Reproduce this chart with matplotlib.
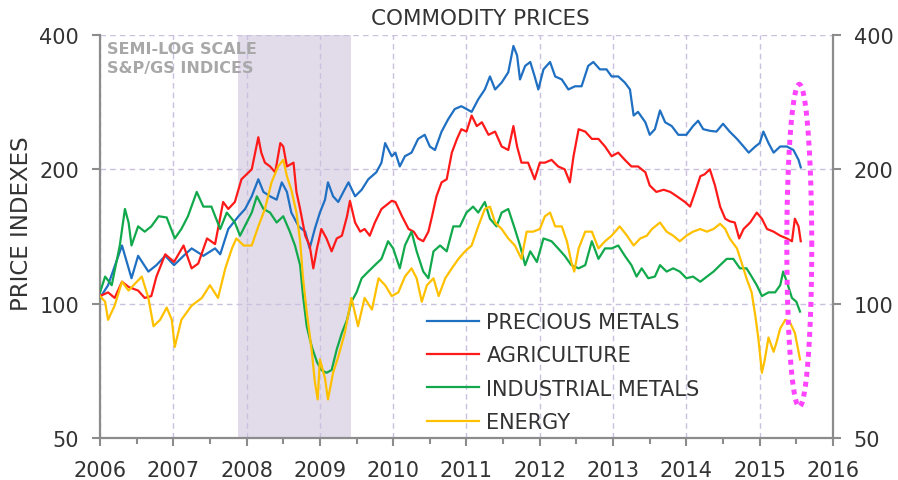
import numpy as np
import matplotlib
matplotlib.use("Agg")
import matplotlib.pyplot as plt
from matplotlib.ticker import FixedLocator, NullLocator, MultipleLocator, FuncFormatter

# ---- data (decimal year, index level) ----
prec_x = [2006.00, 2006.11, 2006.30, 2006.43, 2006.52, 2006.66, 2006.77, 2006.89, 2007.01, 2007.14,
          2007.25, 2007.41, 2007.57, 2007.64, 2007.75, 2007.89, 2007.98, 2008.07, 2008.16, 2008.23,
          2008.32, 2008.41, 2008.48, 2008.55, 2008.61, 2008.71, 2008.80, 2008.86, 2008.93, 2009.00,
          2009.07, 2009.11, 2009.18, 2009.25, 2009.32, 2009.39, 2009.48, 2009.57, 2009.66, 2009.77,
          2009.84, 2009.89, 2009.98, 2010.03, 2010.09, 2010.16, 2010.25, 2010.34, 2010.43, 2010.50,
          2010.57, 2010.66, 2010.75, 2010.84, 2010.93, 2011.00, 2011.07, 2011.16, 2011.25, 2011.32,
          2011.39, 2011.48, 2011.57, 2011.64, 2011.69, 2011.73, 2011.80, 2011.87, 2011.93, 2011.98,
          2012.05, 2012.14, 2012.21, 2012.30, 2012.39, 2012.48, 2012.57, 2012.66, 2012.73, 2012.82,
          2012.91, 2012.98, 2013.07, 2013.16, 2013.23, 2013.28, 2013.34, 2013.44, 2013.50, 2013.57,
          2013.64, 2013.71, 2013.80, 2013.89, 2014.00, 2014.09, 2014.16, 2014.23, 2014.32, 2014.41,
          2014.50, 2014.59, 2014.69, 2014.78, 2014.85, 2014.94, 2015.00, 2015.05, 2015.12, 2015.19,
          2015.28, 2015.37, 2015.46, 2015.53, 2015.56]
prec_y = [103, 110, 135, 114, 128, 118, 122, 128, 122, 128,
          133, 128, 133, 129, 147, 157, 163, 174, 190, 178,
          174, 171, 187, 178, 160, 149, 145, 133, 147, 160,
          171, 187, 174, 169, 178, 187, 174, 180, 190, 197,
          207, 229, 214, 218, 203, 214, 218, 234, 239, 225,
          221, 243, 259, 273, 277, 273, 269, 287, 302, 323,
          302, 313, 330, 378, 360, 318, 341, 348, 323, 302,
          335, 348, 323, 318, 302, 307, 307, 341, 348, 335,
          335, 323, 323, 313, 302, 264, 269, 255, 239, 246,
          271, 255, 250, 239, 239, 250, 257, 246, 244, 243,
          253, 243, 234, 225, 218, 225, 229, 243, 229, 218,
          225, 225, 221, 210, 202]

agri_x = [2006.00, 2006.11, 2006.20, 2006.30, 2006.39, 2006.52, 2006.61, 2006.70, 2006.77, 2006.89,
          2007.01, 2007.14, 2007.25, 2007.34, 2007.46, 2007.57, 2007.68, 2007.75, 2007.84, 2007.93,
          2008.07, 2008.16, 2008.20, 2008.25, 2008.32, 2008.39, 2008.46, 2008.50, 2008.55, 2008.64,
          2008.68, 2008.73, 2008.80, 2008.86, 2008.91, 2008.96, 2009.02, 2009.09, 2009.16, 2009.23,
          2009.30, 2009.37, 2009.41, 2009.48, 2009.55, 2009.61, 2009.68, 2009.75, 2009.84, 2009.98,
          2010.03, 2010.12, 2010.21, 2010.28, 2010.34, 2010.41, 2010.48, 2010.53, 2010.59, 2010.66,
          2010.73, 2010.80, 2010.87, 2010.93, 2011.00, 2011.07, 2011.14, 2011.21, 2011.30, 2011.39,
          2011.48, 2011.57, 2011.64, 2011.69, 2011.75, 2011.84, 2011.93, 2012.00, 2012.07, 2012.16,
          2012.25, 2012.34, 2012.41, 2012.46, 2012.53, 2012.62, 2012.71, 2012.80, 2012.89, 2012.98,
          2013.07, 2013.16, 2013.25, 2013.34, 2013.44, 2013.50, 2013.59, 2013.69, 2013.78, 2013.87,
          2013.98, 2014.05, 2014.12, 2014.19, 2014.25, 2014.32, 2014.39, 2014.46, 2014.53, 2014.59,
          2014.66, 2014.72, 2014.78, 2014.87, 2014.96, 2015.03, 2015.10, 2015.19, 2015.28, 2015.37,
          2015.44, 2015.48, 2015.53, 2015.56]
agri_y = [104, 106, 103, 112, 109, 107, 103, 104, 115, 129,
          124, 135, 120, 123, 140, 136, 169, 163, 169, 190,
          200, 236, 218, 207, 203, 197, 229, 225, 203, 207,
          178, 163, 142, 135, 120, 133, 147, 140, 131, 140,
          142, 157, 170, 152, 145, 147, 142, 152, 163, 170,
          169, 157, 147, 145, 140, 138, 145, 157, 174, 187,
          190, 218, 234, 246, 243, 264, 250, 255, 239, 243,
          225, 221, 250, 225, 207, 207, 190, 207, 207, 210,
          203, 200, 187, 214, 246, 243, 234, 234, 225, 214,
          218, 210, 203, 203, 197, 184, 178, 180, 178, 174,
          169, 165, 178, 193, 195, 200, 184, 165, 155, 153,
          152, 140, 147, 152, 160, 155, 147, 145, 142, 140,
          138, 155, 149, 138]

ind_x = [2006.00, 2006.07, 2006.16, 2006.27, 2006.34, 2006.39, 2006.43, 2006.52, 2006.61, 2006.70,
         2006.80, 2006.91, 2007.02, 2007.11, 2007.20, 2007.32, 2007.41, 2007.52, 2007.64, 2007.73,
         2007.84, 2007.91, 2008.07, 2008.14, 2008.23, 2008.32, 2008.41, 2008.50, 2008.59, 2008.66,
         2008.73, 2008.77, 2008.82, 2008.89, 2008.96, 2009.02, 2009.09, 2009.16, 2009.23, 2009.30,
         2009.37, 2009.43, 2009.50, 2009.57, 2009.66, 2009.75, 2009.84, 2009.93, 2010.00, 2010.09,
         2010.16, 2010.25, 2010.32, 2010.41, 2010.48, 2010.55, 2010.64, 2010.73, 2010.82, 2010.91,
         2011.00, 2011.09, 2011.16, 2011.25, 2011.32, 2011.41, 2011.48, 2011.57, 2011.66, 2011.73,
         2011.80, 2011.87, 2011.96, 2012.05, 2012.16, 2012.25, 2012.34, 2012.43, 2012.53, 2012.62,
         2012.71, 2012.80, 2012.89, 2012.98, 2013.07, 2013.16, 2013.25, 2013.32, 2013.39, 2013.48,
         2013.57, 2013.64, 2013.73, 2013.82, 2013.91, 2014.00, 2014.09, 2014.19, 2014.28, 2014.37,
         2014.46, 2014.55, 2014.64, 2014.73, 2014.82, 2014.89, 2014.96, 2015.03, 2015.12, 2015.21,
         2015.28, 2015.32, 2015.37, 2015.44, 2015.50, 2015.55]
ind_y = [106, 115, 110, 135, 163, 152, 135, 149, 145, 149,
         157, 156, 140, 147, 157, 178, 165, 165, 147, 160,
         152, 142, 160, 174, 163, 160, 152, 157, 145, 135,
         122, 104, 89, 80, 74, 71, 70, 71, 79, 86,
         92, 101, 106, 114, 118, 122, 126, 138, 133, 120,
         135, 145, 131, 118, 114, 131, 135, 131, 149, 149,
         160, 165, 160, 169, 155, 149, 160, 163, 147, 135,
         122, 131, 124, 140, 138, 133, 128, 122, 120, 122,
         138, 126, 133, 133, 135, 128, 122, 115, 120, 114,
         115, 122, 118, 120, 118, 114, 115, 112, 115, 118,
         122, 126, 126, 120, 120, 115, 110, 104, 106, 106,
         110, 118, 112, 103, 101, 96]

nrg_x = [2006.00, 2006.07, 2006.11, 2006.20, 2006.30, 2006.39, 2006.48, 2006.57, 2006.66, 2006.73,
         2006.82, 2006.91, 2006.98, 2007.02, 2007.11, 2007.25, 2007.39, 2007.50, 2007.61, 2007.71,
         2007.80, 2007.86, 2007.96, 2008.07, 2008.16, 2008.25, 2008.34, 2008.43, 2008.50, 2008.55,
         2008.61, 2008.68, 2008.73, 2008.77, 2008.82, 2008.89, 2008.93, 2008.97, 2009.00, 2009.07,
         2009.11, 2009.18, 2009.25, 2009.34, 2009.43, 2009.52, 2009.61, 2009.71, 2009.80, 2009.89,
         2009.98, 2010.07, 2010.16, 2010.25, 2010.32, 2010.39, 2010.46, 2010.55, 2010.62, 2010.71,
         2010.80, 2010.89, 2010.98, 2011.07, 2011.16, 2011.25, 2011.32, 2011.39, 2011.48, 2011.57,
         2011.66, 2011.75, 2011.82, 2011.91, 2012.00, 2012.07, 2012.14, 2012.21, 2012.30, 2012.37,
         2012.43, 2012.47, 2012.53, 2012.62, 2012.71, 2012.80, 2012.89, 2012.98, 2013.09, 2013.19,
         2013.28, 2013.37, 2013.46, 2013.53, 2013.64, 2013.73, 2013.82, 2013.91, 2014.00, 2014.09,
         2014.19, 2014.28, 2014.37, 2014.46, 2014.53, 2014.59, 2014.69, 2014.75, 2014.82, 2014.89,
         2014.94, 2014.98, 2015.03, 2015.07, 2015.12, 2015.19, 2015.23, 2015.28, 2015.35, 2015.41,
         2015.48, 2015.55]
nrg_y = [104, 101, 92, 99, 112, 107, 111, 115, 103, 89,
         92, 98, 92, 80, 92, 99, 103, 110, 103, 120,
         133, 140, 135, 135, 149, 163, 187, 203, 210, 193,
         180, 160, 138, 114, 96, 78, 67, 61, 75, 68,
         61, 70, 76, 86, 103, 89, 103, 97, 114, 110,
         104, 106, 115, 120, 114, 101, 110, 114, 104, 114,
         120, 126, 131, 135, 149, 163, 165, 152, 147, 140,
         135, 126, 145, 145, 147, 157, 160, 149, 149, 138,
         124, 118, 133, 145, 145, 133, 138, 142, 149, 142,
         135, 140, 142, 147, 152, 145, 142, 138, 142, 145,
         147, 145, 147, 151, 147, 140, 133, 124, 114, 106,
         94, 84, 70, 75, 84, 78, 82, 88, 92, 91,
         86, 75]

series = [
    ("PRECIOUS METALS", prec_x, prec_y, "#1f6fc2"),
    ("AGRICULTURE", agri_x, agri_y, "#ff1a1a"),
    ("INDUSTRIAL METALS", ind_x, ind_y, "#12a94c"),
    ("ENERGY", nrg_x, nrg_y, "#ffc000"),
]

recession = (2007.88, 2009.43)
year_ticks = list(range(2006, 2017))
level_ticks = [50, 100, 200, 400]

# dotted highlight ring round mid-2015 (centre year, half-width, centre level, log2 half-height)
ring_x, ring_rx, ring_y, ring_ry = 2015.54, 0.17, 135, 1.2

GRID = "#c9c1dd"
SPINE = "#8c8c8c"
TXT = "#333333"

fig = plt.figure(figsize=(8.98, 4.81), dpi=100)
ax = fig.add_axes([100 / 898, 1 - 439 / 481, 733 / 898, 403 / 481])

ax.axvspan(*recession, color="#e2dcea", lw=0, zorder=0)

for name, xs, ys, c in series:
    ax.plot(xs, ys, color=c, lw=1.6, label=name, zorder=3)

t = np.linspace(0, 2 * np.pi, 200)
ax.plot(ring_x + ring_rx * np.cos(t), ring_y * 2 ** (ring_ry * np.sin(t)),
        color="#ff44ff", lw=3.6, ls=(0, (1, 1.0)), dash_capstyle="butt", zorder=4)

ax.set_yscale("log", base=2)
ax.set_ylim(50, 400)
ax.set_xlim(2006, 2016)
ax.yaxis.set_major_locator(FixedLocator(level_ticks))
ax.yaxis.set_minor_locator(NullLocator())
ax.yaxis.set_major_formatter(FuncFormatter(lambda v, p: f"{v:.0f}"))
ax.xaxis.set_major_locator(FixedLocator(year_ticks))
ax.xaxis.set_minor_locator(MultipleLocator(0.5))

ax.grid(True, which="major", color=GRID, ls=(0, (4, 3)), lw=1.0, zorder=1)
ax.set_axisbelow(True)

for side in ("left", "bottom", "right"):
    ax.spines[side].set_color(SPINE)
    ax.spines[side].set_linewidth(1.6)
ax.spines["top"].set_visible(False)

ax.tick_params(axis="both", which="major", direction="out", length=6, width=1.5,
               color=SPINE, labelsize=15, labelcolor=TXT)
ax.tick_params(axis="x", which="minor", direction="out", length=4, width=1.5, color=SPINE)
ax.tick_params(axis="x", pad=10)
ax.tick_params(axis="y", pad=9, right=True, labelright=True)

fig.text(480 / 898, 1 - 19 / 481, "COMMODITY PRICES", ha="center", va="center",
         fontsize=15.5, color=TXT)
fig.text(22 / 898, 1 - 224 / 481, "PRICE INDEXES", ha="center", va="center",
         rotation=90, fontsize=16.5, color=TXT)
ax.text(0.009, 0.985, "SEMI-LOG SCALE\nS&P/GS INDICES", transform=ax.transAxes,
        ha="left", va="top", fontsize=11.5, fontweight="bold", color="#a8a8a8",
        linespacing=1.35)

ax.legend(loc="upper left", bbox_to_anchor=(427 / 898, 1 - 313 / 481),
          bbox_transform=fig.transFigure, frameon=False, fontsize=15,
          handlelength=2.5, handletextpad=0.35, labelspacing=0.64,
          borderpad=0, borderaxespad=0, labelcolor=TXT)

fig.savefig("out.png", dpi=100)
